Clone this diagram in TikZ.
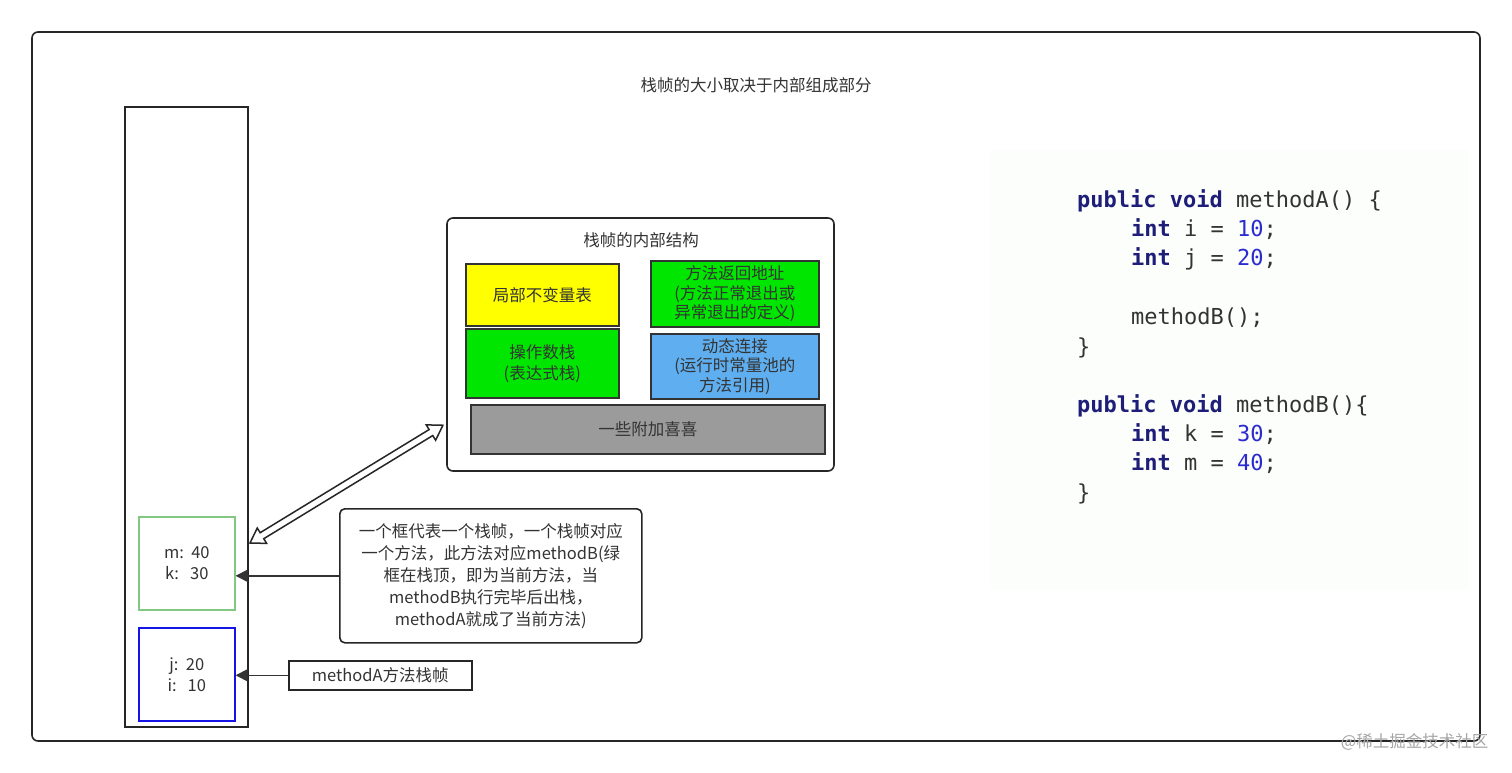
\documentclass[tikz,border=0pt]{standalone}
\usepackage{fontspec}
\setmainfont{Noto Sans CJK SC}
\newfontfamily\codef{DejaVu Sans Mono}
\usetikzlibrary{arrows.meta}
\definecolor{kw}{HTML}{1E1E78}
\definecolor{num}{HTML}{2B2BD0}
\definecolor{ct}{HTML}{333333}
\definecolor{lgreen}{RGB}{130,200,130}
\definecolor{bblue}{RGB}{20,20,230}
\definecolor{yel}{RGB}{255,255,0}
\definecolor{grn}{RGB}{0,230,0}
\definecolor{lblue}{RGB}{95,175,240}
\definecolor{gry}{RGB}{155,155,155}
\definecolor{codebg}{RGB}{252,254,252}
\begin{document}
\begin{tikzpicture}[x=1pt,y=-1pt,
  txt/.style={font=\fontsize{16.5}{21}\selectfont,text=black!80,align=center},
  blk/.style={draw=black!80,line width=1.6pt},
  code/.style={anchor=base west,inner sep=0,font=\codef\fontsize{22}{26}\selectfont,text=ct},
  arr/.style={-{Triangle[length=12pt,width=12pt]},line width=1.6pt,draw=black!80}]
\useasboundingbox (0,0) rectangle (1512,773);
\fill[white] (0,0) rectangle (1512,773);
\draw[line width=1.6pt,rounded corners=6pt,draw=black!85] (32,32) rectangle (1480,741);
\node[txt] (title) at (756,85) {栈帧的大小取决于内部组成部分};
\draw[line width=1.6pt,draw=black!85] (125,107) rectangle (248,727);
\node[draw=lgreen,line width=1.6pt,minimum width=96pt,minimum height=93pt,txt,anchor=north west] (mk) at (138,516) {m:\ \ 40\\k:\ \ \ 30};
\node[draw=bblue,line width=1.6pt,minimum width=96pt,minimum height=93pt,txt,anchor=north west] (ji) at (138,627) {j:\ \ 20\\i:\ \ \ 10};
% inner structure
\draw[line width=1.6pt,rounded corners=6pt,draw=black!85] (447,218) rectangle (834,471);
\node[txt] (st) at (641,240) {栈帧的内部结构};
\node[blk,fill=yel,minimum width=153pt,minimum height=62pt,anchor=north west,txt] (lv) at (465,263) {局部不变量表};
\node[blk,fill=grn,minimum width=168pt,minimum height=66pt,anchor=north west,txt,font=\fontsize{16.5}{19.5}\selectfont,inner sep=0] (ra) at (650,260) {方法返回地址\\(方法正常退出或\\异常退出的定义)};
\node[blk,fill=grn,minimum width=153pt,minimum height=69pt,anchor=north west,txt] (os) at (465,328) {操作数栈\\(表达式栈)};
\node[blk,fill=lblue,minimum width=168pt,minimum height=65pt,anchor=north west,txt,font=\fontsize{16.5}{19.5}\selectfont,inner sep=0] (dl) at (650,333) {动态连接\\(运行时常量池的\\方法引用)};
\node[blk,fill=gry,minimum width=354pt,minimum height=49pt,anchor=north west,txt] (ex) at (470,404) {一些附加喜喜};
% hollow double arrow
\begin{scope}[shift={(250,543)},rotate=31.4]
\draw[line width=1.5pt,fill=white,draw=black!85,line join=miter] (0pt,0pt)--(14pt,9pt)--(14pt,3.5pt)--(212pt,3.5pt)--(212pt,9pt)--(226pt,0pt)--(212pt,-9pt)--(212pt,-3.5pt)--(14pt,-3.5pt)--(14pt,-9pt)--cycle;
\end{scope}
% callouts
\node[draw=black!85,line width=1.6pt,rounded corners=5pt,minimum width=302pt,minimum height=134pt,anchor=north west,txt,font=\fontsize{16.5}{22}\selectfont] (c1) at (339,508) {一个框代表一个栈帧，一个栈帧对应\\一个方法，此方法对应methodB(绿\\框在栈顶，即为当前方法，当\\methodB执行完毕后出栈，\\methodA就成了当前方法)};
\draw[arr] (c1.west) -- (c1.west -| mk.east);
\node[draw=black!85,line width=1.6pt,minimum width=183pt,minimum height=29pt,anchor=north west,txt] (c2) at (288,660) {methodA方法栈帧};
\draw[arr] (c2.west) -- (c2.west -| ji.east);
% code
\fill[codebg] (990,150) rectangle (1468,590);
\node[code] (l1) at (1077,207) {\textbf{\color{kw}public void} methodA() \{};
\node[code] (l2) at (1131,236) {\textbf{\color{kw}int} i = \textcolor{num}{10};};
\node[code] (l3) at (1131,265) {\textbf{\color{kw}int} j = \textcolor{num}{20};};
\node[code] (l4) at (1131,324) {methodB();};
\node[code] (l5) at (1077,354) {\}};
\node[code] (l6) at (1077,412) {\textbf{\color{kw}public void} methodB()\{};
\node[code] (l7) at (1131,441) {\textbf{\color{kw}int} k = \textcolor{num}{30};};
\node[code] (l8) at (1131,470) {\textbf{\color{kw}int} m = \textcolor{num}{40};};
\node[code] (l9) at (1077,500) {\}};
\node[txt,text=black!35,anchor=east] (wm) at (1492,742) {@稀土掘金技术社区};
\end{tikzpicture}
\end{document}
